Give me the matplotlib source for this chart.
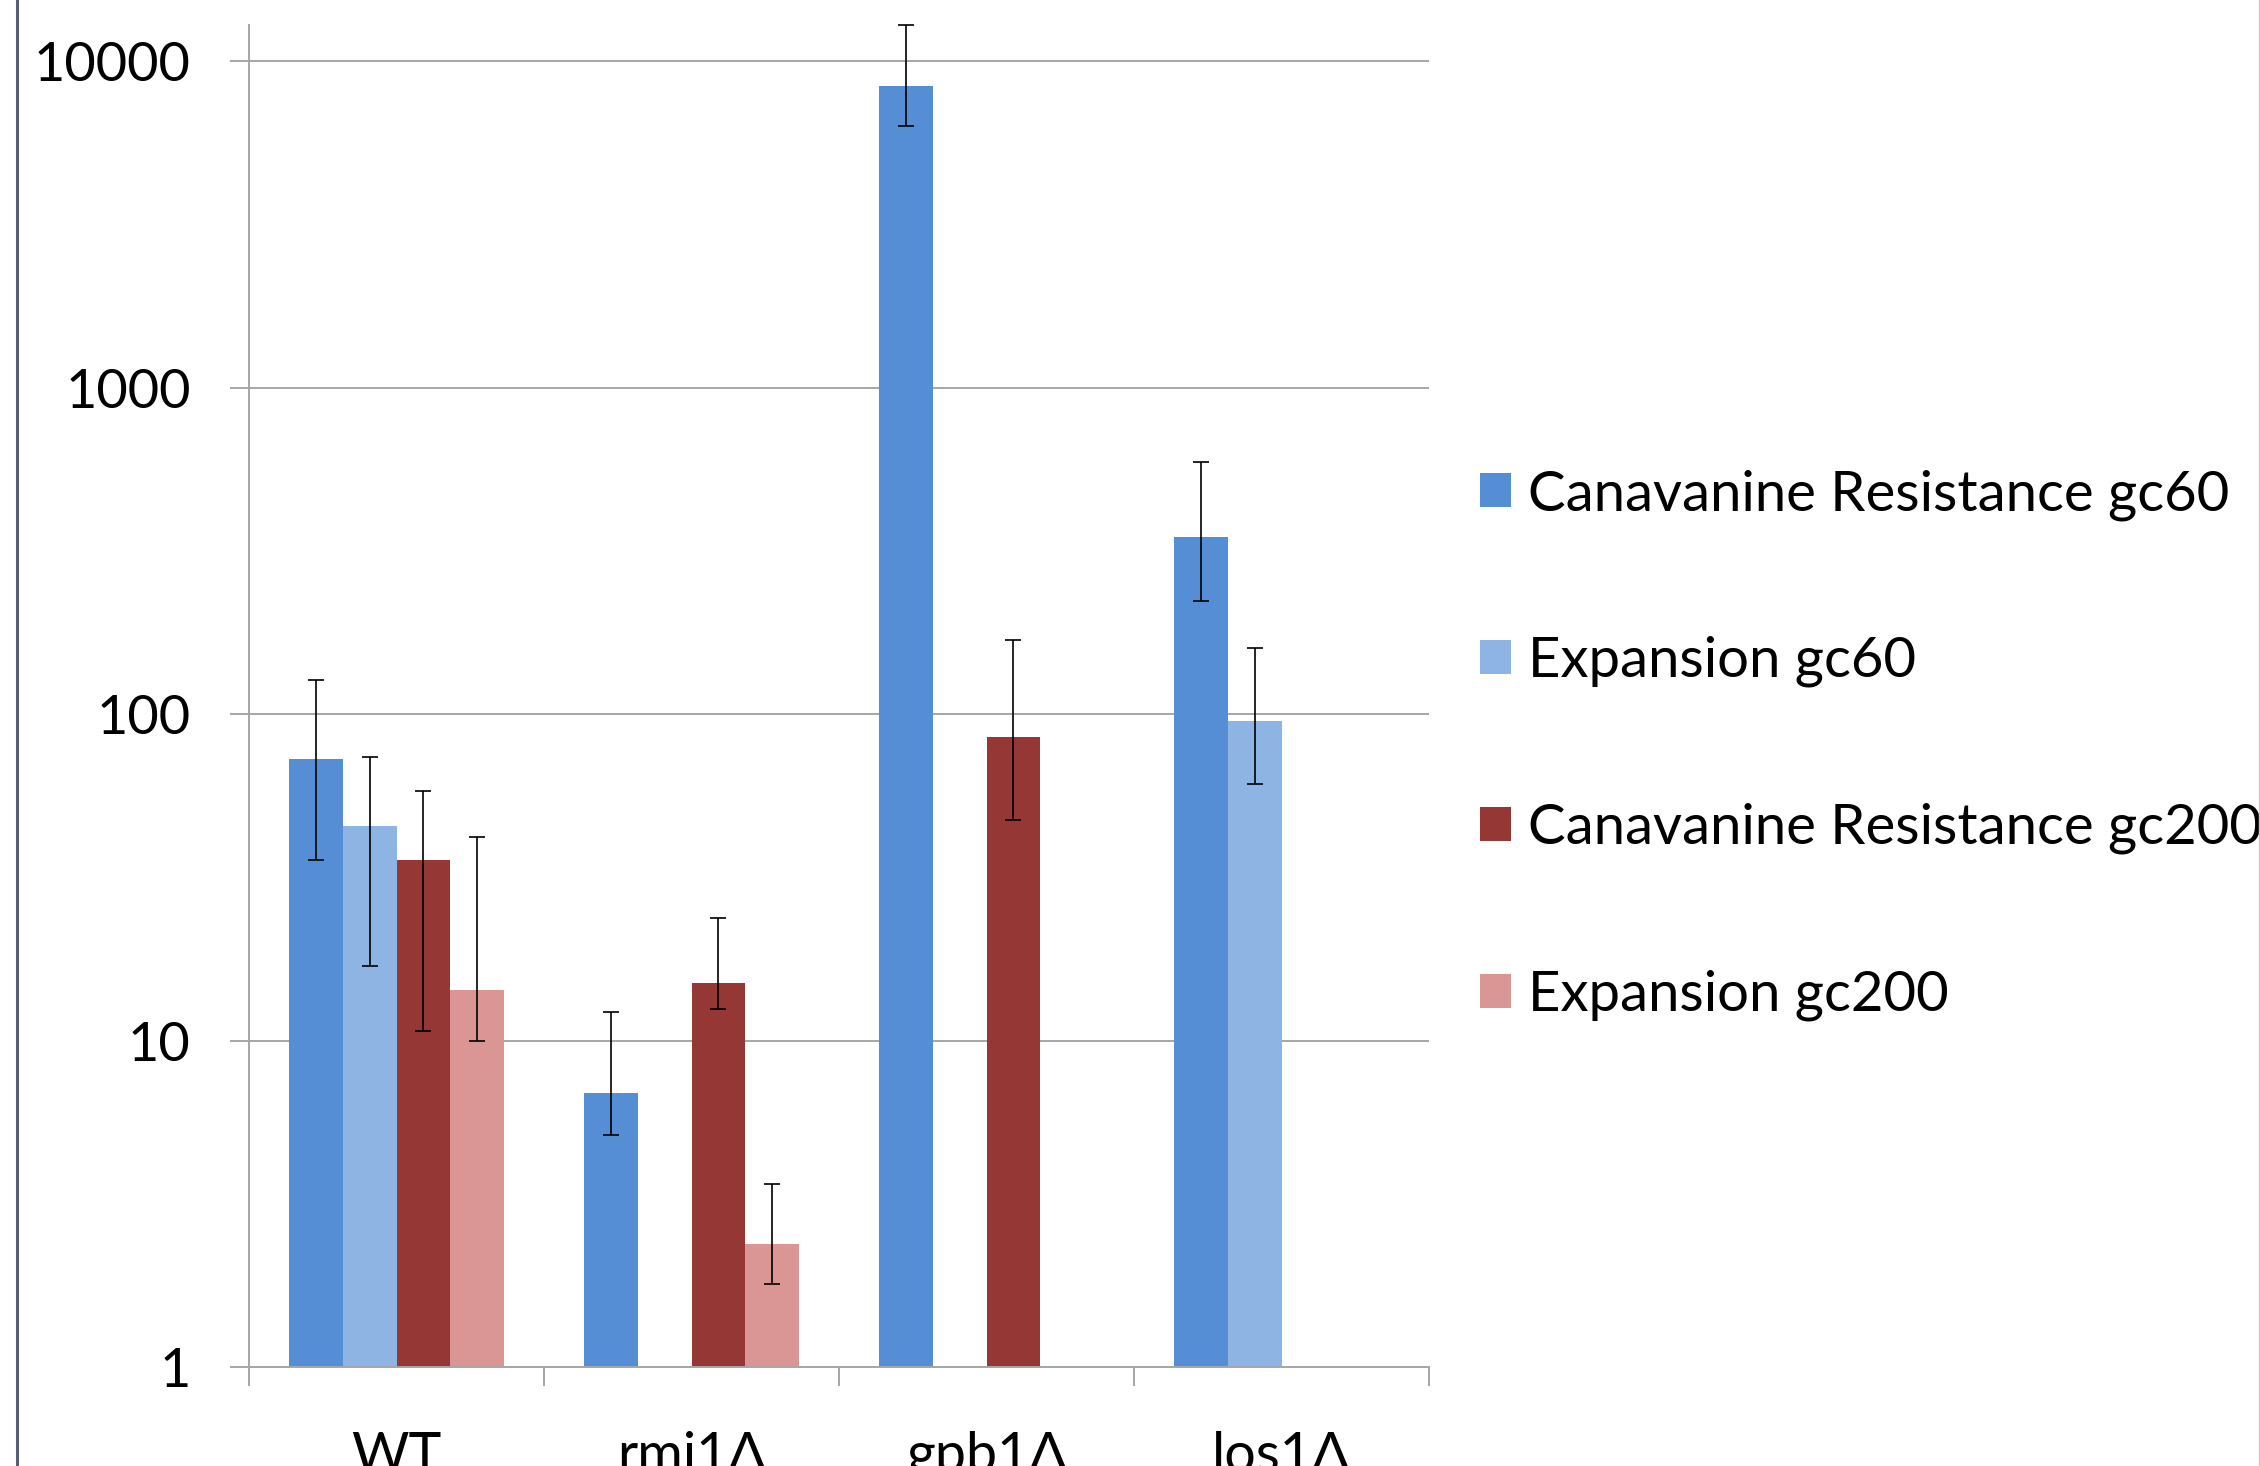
import numpy as np
import matplotlib.pyplot as plt
from matplotlib.lines import Line2D

plt.rcParams['font.family'] = ['Lato', 'DejaVu Sans']

strains = ['WT', 'rmi1Δ', 'gpb1Δ', 'los1Δ']
series = ['Canavanine Resistance gc60', 'Expansion gc60',
          'Canavanine Resistance gc200', 'Expansion gc200']
colors = ['#558ED5', '#8EB4E3', '#953735', '#D99694']

# bar heights per series (nan = no bar)
can_gc60 = [73, 6.9, 8400, 348]
exp_gc60 = [45.5, np.nan, np.nan, 95.5]
can_gc200 = [35.6, 15.0, 85, np.nan]
exp_gc200 = [14.3, 2.38, np.nan, np.nan]

# error bar ends (low, high)
can_gc60_lo = [35.6, 5.15, 6330, 222]
can_gc60_hi = [127, 12.2, 12900, 590]
exp_gc60_lo = [16.9, np.nan, np.nan, 61]
exp_gc60_hi = [74, np.nan, np.nan, 159]
can_gc200_lo = [10.7, 12.5, 47.3, np.nan]
can_gc200_hi = [58, 23.7, 169, np.nan]
exp_gc200_lo = [10, 1.79, np.nan, np.nan]
exp_gc200_hi = [41.9, 3.64, np.nan, np.nan]

values = [can_gc60, exp_gc60, can_gc200, exp_gc200]
lows = [can_gc60_lo, exp_gc60_lo, can_gc200_lo, exp_gc200_lo]
highs = [can_gc60_hi, exp_gc60_hi, can_gc200_hi, exp_gc200_hi]

fig = plt.figure(figsize=(22.6, 14.66), dpi=100)
ax = fig.add_axes([249 / 2260, 1 - 1367 / 1466, (1429 - 249) / 2260, (1367 - 25) / 1466])

grid_col = '#a6a6a6'
x = np.arange(len(strains))
width = 1 / 5.5
for i, (vals, lo, hi) in enumerate(zip(values, lows, highs)):
    vals = np.array(vals, dtype=float)
    lo = np.array(lo, dtype=float)
    hi = np.array(hi, dtype=float)
    pos = x + (i - 1.5) * width
    ax.bar(pos, vals, width=width, color=colors[i], label=series[i], zorder=2)
    ax.errorbar(pos, vals, yerr=[vals - lo, hi - vals], fmt='none',
                ecolor='black', elinewidth=1.2, capsize=6, capthick=1.2,
                zorder=3, clip_on=False)

ax.set_yscale('log')
ax.set_ylim(1, 12900)
ax.set_xlim(-0.5, len(strains) - 0.5)
ax.set_yticks([1, 10, 100, 1000, 10000])
ax.set_yticklabels(['1', '10', '100', '1000', '10000'])
ax.yaxis.set_minor_locator(plt.NullLocator())
ax.tick_params(axis='y', which='major', length=14, width=1.4, color=grid_col,
               labelsize=39, pad=28)
ax.grid(axis='y', color=grid_col, linewidth=1.4, zorder=0)

# group boundary ticks, labels centred on groups
ax.set_xticks(np.arange(len(strains) + 1) - 0.5)
ax.set_xticklabels([])
ax.set_xticks(x, minor=True)
ax.set_xticklabels(strains, minor=True)
ax.tick_params(axis='x', which='major', length=14, width=1.4, color=grid_col)
ax.tick_params(axis='x', which='minor', length=0, labelsize=40, pad=46)

for s in ['top', 'right']:
    ax.spines[s].set_visible(False)
for s in ['left', 'bottom']:
    ax.spines[s].set_color(grid_col)
    ax.spines[s].set_linewidth(1.4)

ax.legend(loc='center left', bbox_to_anchor=(1480 / 2260, 1 - 745 / 1466),
          bbox_transform=fig.transFigure, frameon=False, fontsize=40.5,
          handlelength=0.55, handleheight=0.55, handletextpad=0.3,
          labelspacing=2.05, borderpad=0, borderaxespad=0)

# outer frame lines
fig.add_artist(Line2D([17 / 2260, 17 / 2260], [0, 1], color='#5a5f78', linewidth=2.2))
fig.add_artist(Line2D([2258.5 / 2260, 2258.5 / 2260], [0, 1], color='#c8c8c8', linewidth=1))

fig.savefig('out.png', dpi=100)
